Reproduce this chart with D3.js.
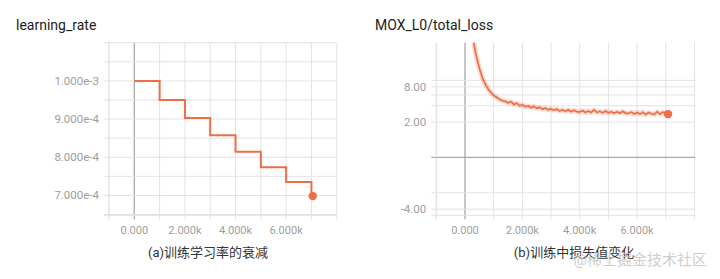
<!DOCTYPE html>
<html>
<head>
<meta charset="utf-8">
<script src="https://cdn.jsdelivr.net/npm/d3@7"></script>
<style>
  html, body { margin: 0; padding: 0; background: #fff; }
  svg { display: block; }
</style>
</head>
<body>
<svg id="chart" width="720" height="279"></svg>
<script>
// ---------- data ----------
const lrTitle = "learning_rate";
const lrCaption = "(a)训练学习率的衰减";
const lrSteps = [0, 1000, 2000, 3000, 4000, 5000, 6000, 7000, 7050];
const lrValues = [1.0e-3, 9.5e-4, 9.025e-4, 8.574e-4, 8.145e-4, 7.738e-4, 7.351e-4, 6.983e-4, 6.983e-4];
const lrYTicks = [7e-4, 8e-4, 9e-4, 1e-3];
const lrYTickLabels = ["7.000e-4", "8.000e-4", "9.000e-4", "1.000e-3"];
const lrYGrid = [6.5e-4, 7e-4, 7.5e-4, 8e-4, 8.5e-4, 9e-4, 9.5e-4, 1e-3, 1.05e-3, 1.1e-3];

const xGrid = [-1000, 0, 1000, 2000, 3000, 4000, 5000, 6000, 7000, 8000];
const xTicks = [0, 2000, 4000, 6000];
const xTickLabels = ["0.000", "2.000k", "4.000k", "6.000k"];

const lossTitle = "MOX_L0/total_loss";
const lossCaption = "(b)训练中损失值变化";
const lossSteps = [300, 340, 380, 420, 460, 500, 550, 600, 650, 700, 750, 800, 850, 900, 950, 1000,
  1100, 1200, 1300, 1400, 1500, 1600, 1700, 1800, 1900, 2000,
  2100, 2200, 2300, 2400, 2500, 2600, 2700, 2800, 2900, 3000,
  3100, 3200, 3300, 3400, 3500, 3600, 3700, 3800, 3900, 4000,
  4100, 4200, 4300, 4400, 4500, 4600, 4700, 4800, 4900, 5000,
  5100, 5200, 5300, 5400, 5500, 5600, 5700, 5800, 5900, 6000,
  6100, 6200, 6300, 6400, 6500, 6600, 6700, 6800, 6900, 7000, 7080];
const lossValues = [36, 29, 24, 20.5, 17.5, 15.2, 13.0, 11.2, 9.9, 8.9, 8.1, 7.5, 7.0, 6.6, 6.2, 5.9,
  5.5, 5.1, 4.85, 4.75, 4.45, 4.7, 4.2, 4.4, 4.0, 4.15,
  3.85, 4.0, 3.7, 3.9, 3.6, 3.75, 3.5, 3.65, 3.4, 3.55,
  3.35, 3.5, 3.25, 3.4, 3.2, 3.4, 3.15, 3.35, 3.15, 3.1,
  3.3, 3.05, 3.25, 3.05, 3.4, 3.05, 3.2, 3.0, 3.25, 3.0,
  3.15, 2.95, 3.15, 2.95, 3.2, 2.95, 2.95, 3.1, 2.85, 3.05,
  2.85, 3.1, 2.8, 3.05, 2.9, 2.8, 3.15, 2.85, 3.1, 2.9, 2.85];
const lossYGrid = [-4, -2, 0, 2, 4, 6, 8, 10];
const lossYTicks = [-4, 2, 8];
const lossYTickLabels = ["-4.00", "2.00", "8.00"];

const watermark = "@稀土掘金技术社区";

// ---------- styles ----------
const ORANGE = "#ef6c44";
const GRID = "#e2e2e2";
const AXIS = "#a8a8a8";
const TICKTXT = "#9e9e9e";
const FONT = "Roboto, 'Noto Sans CJK SC', sans-serif";

const svg = d3.select("#chart");

function panel(opts) {
  const g = svg.append("g");
  const x = opts.x, y = opts.y;
  const [x0, x1] = x.range();
  const [yb, yt] = y.range();
  g.selectAll(".vg").data(xGrid).join("line")
    .attr("x1", d => x(d)).attr("x2", d => x(d))
    .attr("y1", yt).attr("y2", yb + 4)
    .attr("stroke", d => d === 0 ? AXIS : GRID)
    .attr("stroke-width", d => d === 0 ? 1.3 : 1);
  g.selectAll(".hg").data(opts.yGrid).join("line")
    .attr("x1", x0 - 5).attr("x2", x1)
    .attr("y1", d => y(d)).attr("y2", d => y(d))
    .attr("stroke", d => (d === 0 ? AXIS : GRID))
    .attr("stroke-width", d => d === 0 ? 1.3 : 1);
  g.append("line").attr("x1", x0).attr("x2", x0).attr("y1", yt).attr("y2", yb + 4).attr("stroke", GRID);
  g.append("line").attr("x1", x0 - 5).attr("x2", x1).attr("y1", yb).attr("y2", yb).attr("stroke", GRID);
  g.selectAll(".xl").data(xTicks).join("text")
    .attr("x", d => x(d)).attr("y", yb + 19)
    .attr("text-anchor", "middle")
    .attr("font-family", FONT).attr("font-size", 11).attr("fill", TICKTXT)
    .text((d, i) => xTickLabels[i]);
  g.selectAll(".yl").data(opts.yTicks).join("text")
    .attr("x", x0 - 10).attr("y", d => y(d) + 4)
    .attr("text-anchor", "end")
    .attr("font-family", FONT).attr("font-size", opts.yFont).attr("fill", TICKTXT)
    .text((d, i) => opts.yTickLabels[i]);
  g.append("text").attr("x", opts.titleX).attr("y", 30)
    .attr("font-family", FONT).attr("font-size", 14).attr("fill", "#212121")
    .text(opts.title);
  g.append("text").attr("x", opts.captionX).attr("y", 257)
    .attr("text-anchor", "middle")
    .attr("font-family", FONT).attr("font-size", 13).attr("fill", "#333")
    .text(opts.caption);
  return g;
}

// ---------- left panel ----------
const xL = d3.scaleLinear().domain([-1000, 7970]).range([109, 336]);
const yL = d3.scaleLinear().domain([6.48e-4, 1.1e-3]).range([215.3, 42.7]);
const gL = panel({x: xL, y: yL, yGrid: lrYGrid, yTicks: lrYTicks, yTickLabels: lrYTickLabels,
  yFont: 11.5, title: lrTitle, titleX: 16, caption: lrCaption, captionX: 208});
const lrData = lrSteps.map((s, i) => [s, lrValues[i]]);
gL.append("path").datum(lrData)
  .attr("fill", "none").attr("stroke", ORANGE).attr("stroke-width", 2)
  .attr("d", d3.line().x(d => xL(d[0])).y(d => yL(d[1])).curve(d3.curveStepAfter));
gL.append("circle").attr("cx", xL(lrSteps[lrSteps.length - 1])).attr("cy", yL(lrValues[lrValues.length - 1]))
  .attr("r", 4.2).attr("fill", ORANGE);

// ---------- right panel ----------
const xR = d3.scaleLinear().domain([-1000, 8030]).range([436.3, 695.3]);
const yR = d3.scaleSymlog().constant(1).domain([-5.05, 34.5]).range([215.3, 42.7]);
const gR = panel({x: xR, y: yR, yGrid: lossYGrid, yTicks: lossYTicks, yTickLabels: lossYTickLabels,
  yFont: 11.5, title: lossTitle, titleX: 375, caption: lossCaption, captionX: 574});
svg.append("defs").append("clipPath").attr("id", "clipR")
  .append("rect").attr("x", 436).attr("y", 42.7).attr("width", 260).attr("height", 173);
const lossData = lossSteps.map((s, i) => [s, lossValues[i]]);
const lossLine = d3.line().x(d => xR(d[0])).y(d => yR(d[1]));
gR.append("path").datum(lossData).attr("clip-path", "url(#clipR)")
  .attr("fill", "none").attr("stroke", ORANGE).attr("stroke-opacity", 0.25)
  .attr("stroke-width", 5).attr("stroke-linejoin", "round")
  .attr("d", lossLine);
gR.append("path").datum(lossData).attr("clip-path", "url(#clipR)")
  .attr("fill", "none").attr("stroke", ORANGE).attr("stroke-width", 1.7)
  .attr("stroke-linejoin", "round")
  .attr("d", lossLine);
gR.append("circle").attr("cx", xR(lossSteps[lossSteps.length - 1])).attr("cy", yR(lossValues[lossValues.length - 1]))
  .attr("r", 4.2).attr("fill", ORANGE);

// watermark
svg.append("text").attr("x", 707).attr("y", 265).attr("text-anchor", "end")
  .attr("font-family", FONT).attr("font-size", 15).attr("fill", "#c4c4c4").attr("fill-opacity", 0.85)
  .text(watermark);
</script>
</body>
</html>
